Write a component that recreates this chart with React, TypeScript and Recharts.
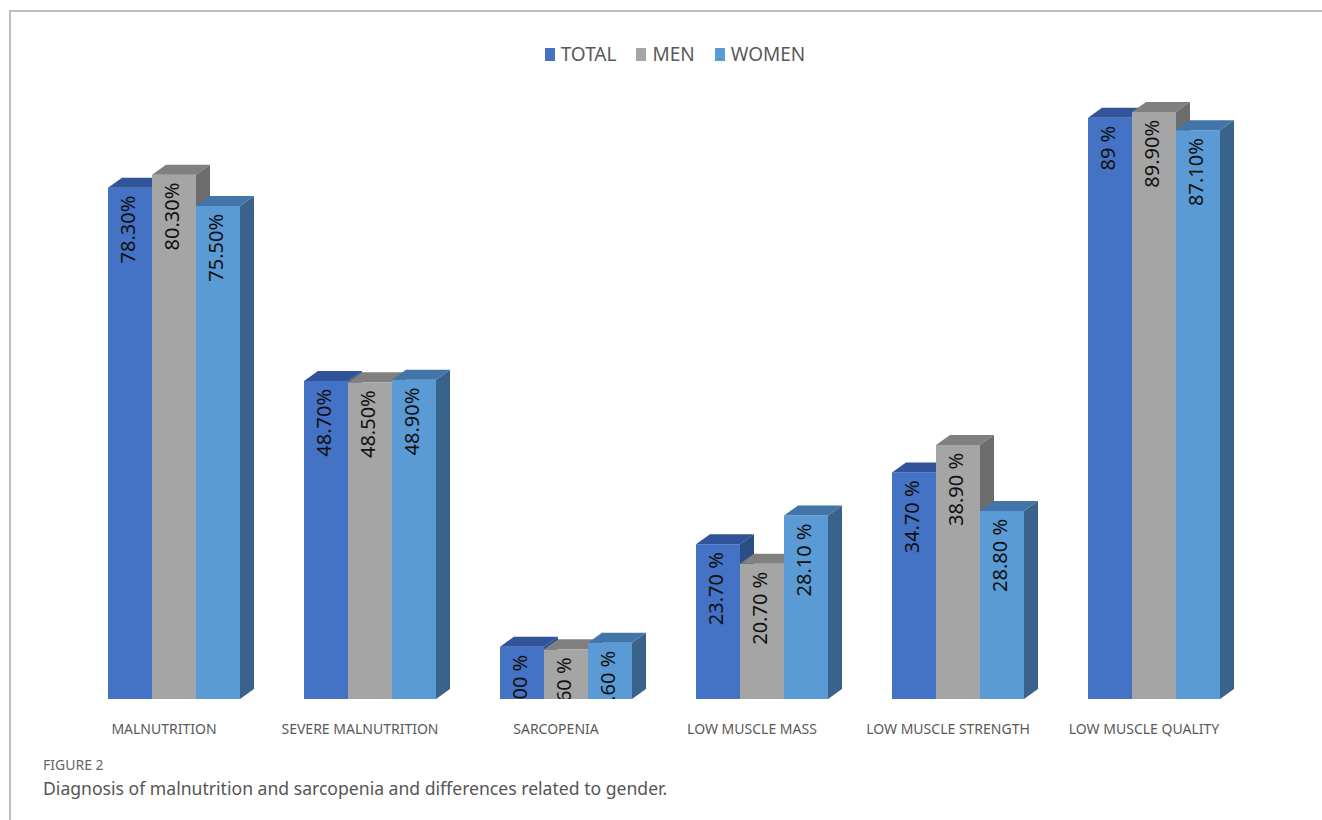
import React from 'react';
import { BarChart, Bar, XAxis, YAxis } from 'recharts';

const categories = ['MALNUTRITION', 'SEVERE MALNUTRITION', 'SARCOPENIA', 'LOW MUSCLE MASS', 'LOW MUSCLE STRENGTH', 'LOW MUSCLE QUALITY'];
const totalValues = [78.3, 48.7, 8.0, 23.7, 34.7, 89.0];
const menValues = [80.3, 48.5, 7.6, 20.7, 38.9, 89.9];
const womenValues = [75.5, 48.9, 8.6, 28.1, 28.8, 87.1];
const totalLabels = ['78.30%', '48.70%', '8.00 %', '23.70 %', '34.70 %', '89 %'];
const menLabels = ['80.30%', '48.50%', '7.60 %', '20.70 %', '38.90 %', '89.90%'];
const womenLabels = ['75.50%', '48.90%', '8.60 %', '28.10 %', '28.80 %', '87.10%'];

const data = categories.map((name, i) => ({
  name,
  total: totalValues[i],
  men: menValues[i],
  women: womenValues[i]
}));

interface Palette {
  front: string;
  top: string;
  side: string;
}

const palettes: Record<string, Palette> = {
  total: { front: '#4472C4', top: '#30539a', side: '#2c4c86' },
  men: { front: '#A5A5A5', top: '#808080', side: '#6c6c6c' },
  women: { front: '#5B9BD5', top: '#4276a8', side: '#3a638c' }
};

const series = [
  { key: 'total', name: 'TOTAL', labels: totalLabels },
  { key: 'men', name: 'MEN', labels: menLabels },
  { key: 'women', name: 'WOMEN', labels: womenLabels }
];

const DX = 14;
const DY = 10;

function makeShape(key: string, labels: string[]) {
  const pal = palettes[key];
  return (props: any) => {
    const { x, y, width, height, index } = props;
    const base = y + height;
    const cx = x + width / 2 - 2;
    const ty = y + 8;
    const clipId = `clip-${key}-${index}`;
    return <g>
        <rect x={x} y={y} width={width} height={height} fill={pal.front} />
        <polygon points={`${x},${y} ${x + width},${y} ${x + width + DX},${y - DY} ${x + DX},${y - DY}`} fill={pal.top} />
        <polygon points={`${x + width},${y} ${x + width + DX},${y - DY} ${x + width + DX},${base - DY} ${x + width},${base}`} fill={pal.side} />
        <clipPath id={clipId}>
          <rect x={x - 20} y={y - 40} width={width + 40} height={height + 40} />
        </clipPath>
        <g clipPath={`url(#${clipId})`}>
          <text x={cx} y={ty} transform={`rotate(-90, ${cx}, ${ty})`} textAnchor="end" dominantBaseline="central" fontFamily="'Noto Sans', sans-serif" fontSize={20} fill="#111">
            {labels[index]}
          </text>
        </g>
      </g>;
  };
}

function CategoryTick(props: any) {
  const { x, y, payload } = props;
  return <text x={x - 10} y={y + 21} textAnchor="middle" dominantBaseline="central" fontFamily="'Noto Sans', sans-serif" fontSize={14} fill="#595959">
      {payload.value}
    </text>;
}

function ChartLegend() {
  return <div style={{ position: 'absolute', left: 0, top: 41, width: 1350, display: 'flex', justifyContent: 'center', alignItems: 'center', gap: 20, fontFamily: "'Noto Sans', sans-serif", fontSize: 19, color: '#595959', lineHeight: '26px' }}>
      {series.map(s => <div key={s.key} style={{ display: 'flex', alignItems: 'center' }}>
          <span style={{ display: 'inline-block', width: 10, height: 13, background: palettes[s.key].front, marginRight: 6 }} />
          <span>{s.name}</span>
        </div>)}
    </div>;
}

export default function App() {
  return <div style={{ position: 'absolute', left: 0, top: 0, width: 1322, height: 820, background: '#fff', overflow: 'hidden' }}>
      <div style={{ position: 'absolute', left: 9, top: 10, right: 0, height: 0, borderTop: '2px solid #bdbdbd' }} />
      <div style={{ position: 'absolute', left: 9, top: 10, bottom: 0, width: 0, borderLeft: '2px solid #bdbdbd' }} />
      <ChartLegend />
      <div style={{ position: 'absolute', left: 0, top: 0 }}>
        <BarChart width={1322} height={820} data={data} margin={{ top: 46, right: 70, bottom: 91, left: 76 }} barSize={44} barGap={0}>
          <XAxis dataKey="name" axisLine={false} tickLine={false} height={30} tick={<CategoryTick />} interval={0} />
          <YAxis hide domain={[0, 100]} />
          {series.map(s => <Bar key={s.key} dataKey={s.key} name={s.name} fill={palettes[s.key].front} shape={makeShape(s.key, s.labels)} isAnimationActive={false} />)}
        </BarChart>
      </div>
      <div style={{ position: 'absolute', left: 43, top: 755, fontFamily: "'Noto Sans', sans-serif", fontSize: 14, color: '#666', lineHeight: '20px' }}>
        FIGURE 2
      </div>
      <div style={{ position: 'absolute', left: 43, top: 777, fontFamily: "'Noto Sans', sans-serif", fontSize: 17.6, color: '#555', lineHeight: '22px' }}>
        Diagnosis of malnutrition and sarcopenia and differences related to gender.
      </div>
    </div>;
}
